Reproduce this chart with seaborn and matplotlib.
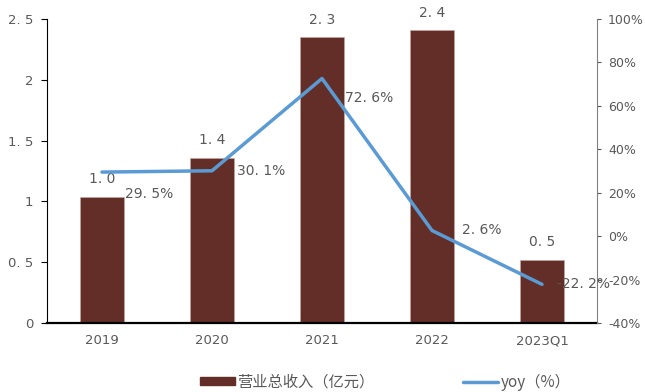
import numpy as np
import pandas as pd
import matplotlib
matplotlib.use("Agg")
import matplotlib.pyplot as plt
import seaborn as sns
from matplotlib.lines import Line2D
from matplotlib.patches import Patch

categories = ["2019", "2020", "2021", "2022", "2023Q1"]
revenue = [1.04, 1.36, 2.35, 2.41, 0.52]
yoy = [29.5, 30.1, 72.6, 2.6, -22.2]
left_ticks = [0, 0.5, 1, 1.5, 2, 2.5]
left_tick_labels = ["0", "0. 5", "1", "1. 5", "2", "2. 5"]
right_ticks = [-40, -20, 0, 20, 40, 60, 80, 100]
right_tick_labels = ["-40%", "-20%", "0%", "20%", "40%", "60%", "80%", "100%"]
bar_labels = ["1. 0", "1. 4", "2. 3", "2. 4", "0. 5"]
yoy_labels = ["29. 5%", "30. 1%", "72. 6%", "2. 6%", "-22. 2%"]

sns.set_style("white")
plt.rcParams['font.family'] = ['DejaVu Sans', 'Noto Sans CJK SC']

GRAY = "#595959"
BAR_C = "#622E27"
LINE_C = "#5B9BD5"
FS = 9.5

fig = plt.figure(figsize=(6.45, 3.92), dpi=100)
ax = fig.add_axes([47/645, 1-323/392, 550/645, 304/392])

df = pd.DataFrame({"cat": categories, "rev": revenue})
sns.barplot(data=df, x="cat", y="rev", color=BAR_C, width=0.4, ax=ax,
            saturation=1, edgecolor="#C8A8A0", linewidth=0.4)
ax.set_xlim(-0.5, len(categories) - 0.5)
ax.set_ylim(0, 2.5)
ax.set_yticks(left_ticks)
ax.set_yticklabels(left_tick_labels, fontsize=FS, color=GRAY)
ax.set_xticks(range(len(categories)))
ax.set_xticklabels(categories, fontsize=FS, color=GRAY)
ax.set_xticks(np.arange(-0.5, len(categories), 1.0), minor=True)
ax.tick_params(axis="x", which="major", length=0, pad=8)
ax.tick_params(axis="x", which="minor", length=4, direction="in", color="black", width=1)
ax.tick_params(axis="y", length=4, direction="out", color="black", width=0.8, pad=6)
ax.set_xlabel("")
ax.set_ylabel("")
for s in ["top", "right"]:
    ax.spines[s].set_visible(False)
ax.spines["left"].set_color("black")
ax.spines["bottom"].set_color("black")
ax.spines["bottom"].set_linewidth(1.6)

for i, (v, lab) in enumerate(zip(revenue, bar_labels)):
    ax.annotate(lab, (i, v), xytext=(0, 7.5), textcoords="offset points",
                ha="center", va="bottom", fontsize=FS + 0.5, color=GRAY)

ax2 = ax.twinx()
sns.lineplot(x=np.arange(len(categories)), y=yoy, ax=ax2, color=LINE_C,
             linewidth=2.5)
ax2.set_ylim(-40, 100)
ax2.set_yticks(right_ticks)
ax2.set_yticklabels(right_tick_labels, fontsize=FS - 0.5, color=GRAY)
ax2.tick_params(axis="y", length=3, direction="out", color=GRAY, width=0.8, pad=5)
for s in ["top", "left", "bottom"]:
    ax2.spines[s].set_visible(False)
ax2.spines["right"].set_color("#808080")
ax2.set_ylabel("")

offsets = [(0.21, -16), (0.23, 0), (0.21, -14), (0.27, 0), (0.14, 0)]
for i, (v, lab) in enumerate(zip(yoy, yoy_labels)):
    dx, dy = offsets[i]
    ax2.annotate(lab, (i + dx, v), xytext=(0, dy), textcoords="offset points",
                 ha="left", va="center", fontsize=FS + 0.5, color=GRAY)

handles = [Patch(facecolor=BAR_C, edgecolor=BAR_C),
           Line2D([0], [0], color=LINE_C, lw=2.5)]
fig.legend(handles, ["营业总收入（亿元）", "yoy（%）"], loc="center",
           bbox_to_anchor=(0.597, 1 - 382/392), ncol=2, frameon=False,
           labelcolor=GRAY, handlelength=2.3, handleheight=0.4,
           handletextpad=0.15, columnspacing=5.8,
           prop={"family": ["Noto Sans CJK SC"], "size": 11})

fig.savefig("out.png", dpi=100)
